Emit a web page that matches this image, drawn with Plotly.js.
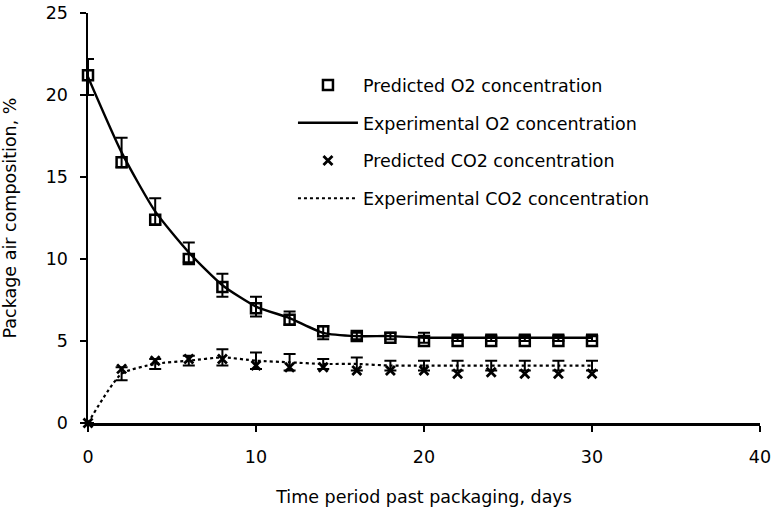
<!DOCTYPE html>
<html>
<head>
<meta charset="utf-8">
<script src="https://cdn.plot.ly/plotly-3.0.1.min.js"></script>
<style>
  body { margin: 0; background: #fff; }
  #chart { width: 773px; height: 510px; }
</style>
</head>
<body>
<div id="chart"></div>
<script>
// days past packaging
const days = [0, 2, 4, 6, 8, 10, 12, 14, 16, 18, 20, 22, 24, 26, 28, 30];

// O2 (%)
const predO2 = [21.2, 15.9, 12.4, 10.0, 8.3, 7.0, 6.3, 5.6, 5.3, 5.2, 5.0, 5.0, 5.0, 5.0, 5.0, 5.0];
const expO2  = [21.1, 16.5, 12.9, 10.4, 8.4, 7.1, 6.4, 5.5, 5.3, 5.3, 5.2, 5.2, 5.2, 5.2, 5.2, 5.2];
const errO2  = [1.1, 0.9, 0.8, 0.6, 0.7, 0.6, 0.4, 0.4, 0.2, 0.2, 0.3, 0.2, 0.2, 0.2, 0.2, 0.2];

// CO2 (%)
const predCO2 = [0, 3.3, 3.8, 3.9, 3.9, 3.5, 3.4, 3.4, 3.2, 3.2, 3.2, 3.0, 3.1, 3.0, 3.0, 3.0];
const expCO2  = [0, 3.0, 3.6, 3.8, 4.0, 3.8, 3.7, 3.6, 3.6, 3.5, 3.5, 3.5, 3.5, 3.5, 3.5, 3.5];
const errCO2  = [0, 0.4, 0.3, 0.3, 0.5, 0.5, 0.5, 0.3, 0.4, 0.3, 0.3, 0.3, 0.3, 0.3, 0.3, 0.3];

const FONT = "DejaVu Sans, Liberation Sans, Arial, sans-serif";

const traces = [
  {
    x: days, y: predO2,
    name: "Predicted O2 concentration",
    legendgroup: "a",
    mode: "markers",
    marker: { symbol: "square-open", size: 10, color: "black", line: { width: 2.5, color: "black" } },
    cliponaxis: false
  },
  {
    x: days, y: expO2,
    name: "Experimental O2 concentration",
    legendgroup: "b",
    mode: "lines",
    line: { color: "black", width: 2.4, shape: "spline", smoothing: 0.6 },
    error_y: { type: "data", array: errO2, color: "black", thickness: 2, width: 6 },
    cliponaxis: false
  },
  {
    x: days, y: predCO2,
    name: "Predicted CO2 concentration",
    legendgroup: "c",
    mode: "markers",
    marker: { symbol: "x-thin", size: 9, color: "black", line: { width: 2.8, color: "black" } },
    cliponaxis: false
  },
  {
    x: days, y: expCO2,
    name: "Experimental CO2 concentration",
    legendgroup: "d",
    mode: "lines",
    line: { color: "black", width: 2.2, dash: "dot", shape: "spline", smoothing: 0.6 },
    error_y: { type: "data", array: errCO2, color: "black", thickness: 2, width: 6 },
    cliponaxis: false
  }
];

const layout = {
  width: 773,
  height: 510,
  margin: { l: 88, r: 13, t: 13, b: 87 },
  paper_bgcolor: "white",
  plot_bgcolor: "white",
  font: { family: FONT, size: 17, color: "black" },
  showlegend: true,
  legend: {
    x: 0.305, y: 0.868, xanchor: "left", yanchor: "top",
    bgcolor: "rgba(0,0,0,0)",
    font: { family: FONT, size: 17.5, color: "black" },
    tracegroupgap: 12,
    itemwidth: 60
  },
  xaxis: {
    range: [0, 40],
    tickvals: [0, 10, 20, 30, 40],
    showgrid: false, zeroline: false,
    showline: true, linecolor: "black", linewidth: 2.5,
    ticks: "outside", ticklen: 6, tickwidth: 2, tickcolor: "black",
    ticklabelstandoff: 10,
    tickfont: { size: 17.5 },
    title: { text: "Time period past packaging, days", font: { size: 17.5 }, standoff: 25 }
  },
  yaxis: {
    range: [0, 25],
    tickvals: [0, 5, 10, 15, 20, 25],
    showgrid: false, zeroline: false,
    showline: true, linecolor: "black", linewidth: 2.5,
    ticks: "outside", ticklen: 6, tickwidth: 2, tickcolor: "black",
    ticklabelstandoff: 8,
    tickfont: { size: 17.5 },
    title: { text: "Package air composition, %", font: { size: 17.5 }, standoff: 26 }
  }
};

Plotly.newPlot("chart", traces, layout, { displayModeBar: false, staticPlot: true });
</script>
</body>
</html>
